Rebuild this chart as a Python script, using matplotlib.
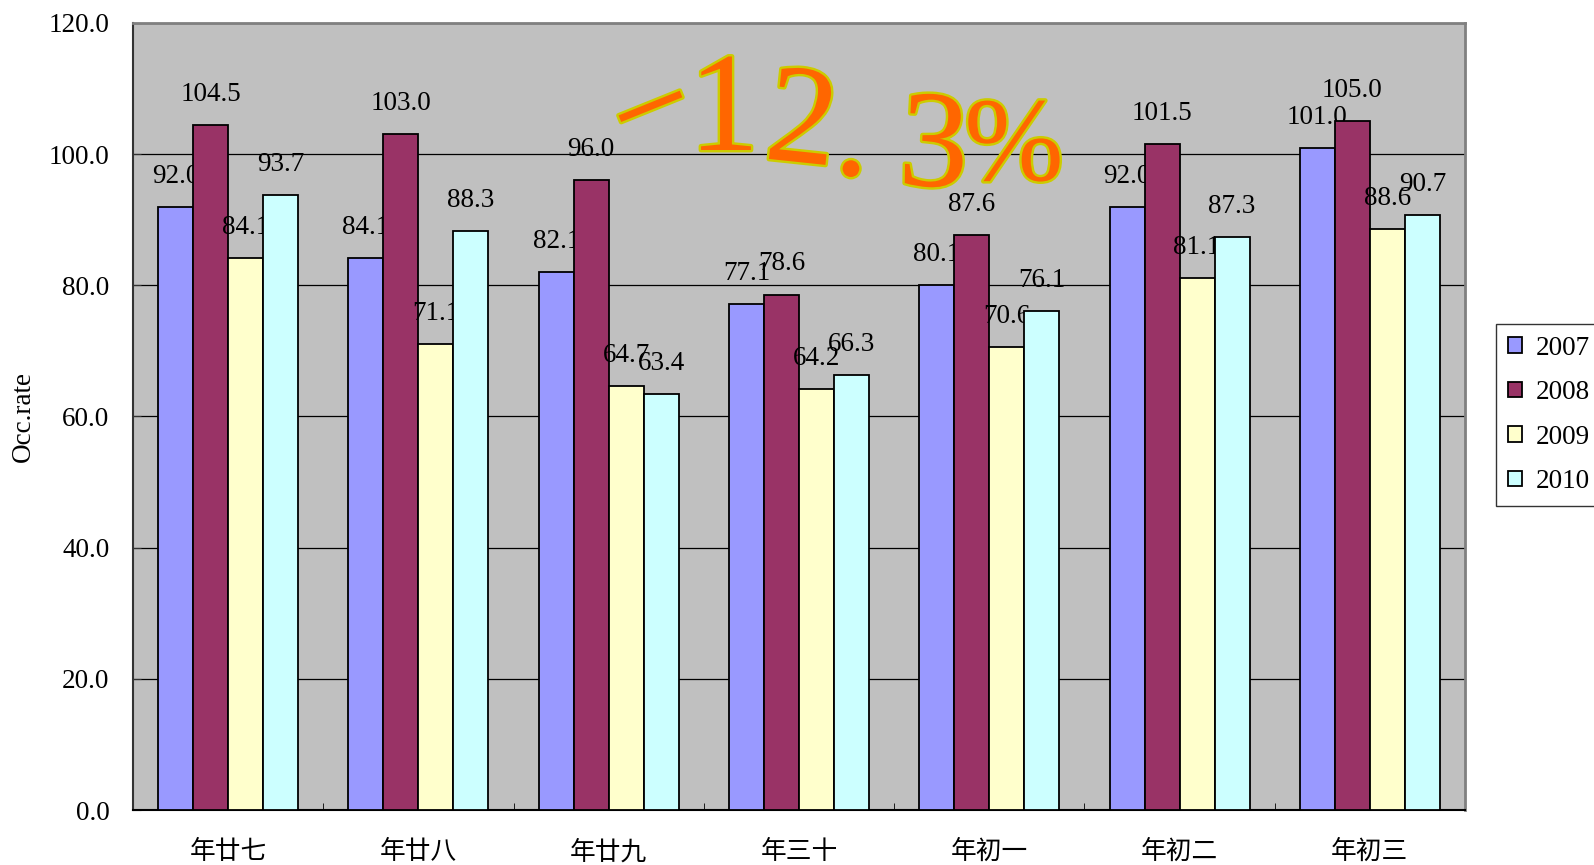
import matplotlib
matplotlib.use("Agg")
import matplotlib.pyplot as plt
import matplotlib.patheffects as pe
import numpy as np

categories = ["年廿七", "年廿八", "年廿九", "年三十", "年初一", "年初二", "年初三"]
years = ["2007", "2008", "2009", "2010"]
v2007 = [92.0, 84.1, 82.1, 77.1, 80.1, 92.0, 101.0]
v2008 = [104.5, 103.0, 96.0, 78.6, 87.6, 101.5, 105.0]
v2009 = [84.1, 71.1, 64.7, 64.2, 70.6, 81.1, 88.6]
v2010 = [93.7, 88.3, 63.4, 66.3, 76.1, 87.3, 90.7]
series = [v2007, v2008, v2009, v2010]
colors = ["#9999FF", "#993366", "#FFFFCC", "#CCFFFF"]
yticks = [0, 20, 40, 60, 80, 100, 120]
ylabel = "Occ.rate"
headline = "−12.3%"

serif = ["Liberation Serif", "DejaVu Serif"]
cjk = ["Noto Sans CJK SC", "DejaVu Sans"]
FS = 19.5

W, H = 1594, 865
fig = plt.figure(figsize=(W / 100, H / 100), dpi=100)
ax = fig.add_axes([133 / W, 1 - 810 / H, (1465 - 133) / W, (810 - 23) / H])
ax.set_facecolor("#C0C0C0")

x = np.arange(len(categories))
bw = 0.184
offs = (np.arange(4) - 1.5) * bw
for i, (vals, c, yr) in enumerate(zip(series, colors, years)):
    bars = ax.bar(x + offs[i], vals, width=bw, color=c, edgecolor="black",
                  linewidth=1.3, label=yr, zorder=3 + i)
    for b, v in zip(bars, vals):
        ax.annotate(f"{v:.1f}", (b.get_x() + b.get_width() / 2, v),
                    xytext=(0, 22), textcoords="offset points",
                    ha="center", va="center", fontsize=FS,
                    family=serif, zorder=3.5 + i)

ax.set_xlim(-0.5, len(categories) - 0.5)
ax.set_ylim(0, 120)
ax.set_yticks(yticks)
ax.set_yticklabels([f"{t:.1f}" for t in yticks], family=serif, fontsize=FS)
ax.yaxis.grid(True, color="black", linewidth=0.9, zorder=1)
ax.set_axisbelow(True)
ax.tick_params(axis="y", direction="in", length=6, pad=17, color="#333333")
ax.set_xticks(x)
ax.set_xticklabels(categories, family=cjk, fontsize=18.5)
ax.tick_params(axis="x", which="major", length=0, pad=21)
ax.set_xticks(np.arange(len(categories) + 1) - 0.5, minor=True)
ax.tick_params(axis="x", which="minor", direction="in", length=5, color="black")

ax.spines["top"].set_color("#808080")
ax.spines["right"].set_color("#808080")
ax.spines["top"].set_linewidth(2)
ax.spines["right"].set_linewidth(2)
ax.spines["left"].set_color("#333333")
ax.spines["left"].set_linewidth(1.5)
ax.spines["bottom"].set_color("black")
ax.spines["bottom"].set_linewidth(1.5)

ax.set_ylabel(ylabel, family=serif, fontsize=FS)
ax.yaxis.set_label_coords(-(133 - 36) / (1465 - 133), 0.5)

leg = fig.legend(loc="center left", bbox_to_anchor=(1496 / W, 1 - 415 / H),
                 prop={"family": serif, "size": FS}, frameon=True,
                 fancybox=False, edgecolor="black", handlelength=0.5,
                 handleheight=0.5, handletextpad=0.5, labelspacing=0.72,
                 borderpad=0.45, borderaxespad=0)
leg.get_frame().set_linewidth(1.0)
for h in leg.legend_handles:
    h.set_linewidth(1.3)

# WordArt-style headline: each character placed along a sloping baseline
chars = list(headline)
char_x = [668, 724, 798, 851, 932, 1014]
char_base = [150, 150, 162, 175, 186, 180]
char_rot = [22, 0, -6, 0, -3, 0]
char_size = [102, 102, 102, 102, 100, 86]
stroke = [pe.withStroke(linewidth=3.5, foreground="#CCCC00")]
for ch, cx, cy, r, s in zip(chars, char_x, char_base, char_rot, char_size):
    fig.text(cx / W, 1 - cy / H, ch, family=serif, fontsize=s,
             color="#FF6600", rotation=r, rotation_mode="anchor",
             ha="center", va="baseline", path_effects=stroke, zorder=20)

fig.savefig("out.png", dpi=100)
